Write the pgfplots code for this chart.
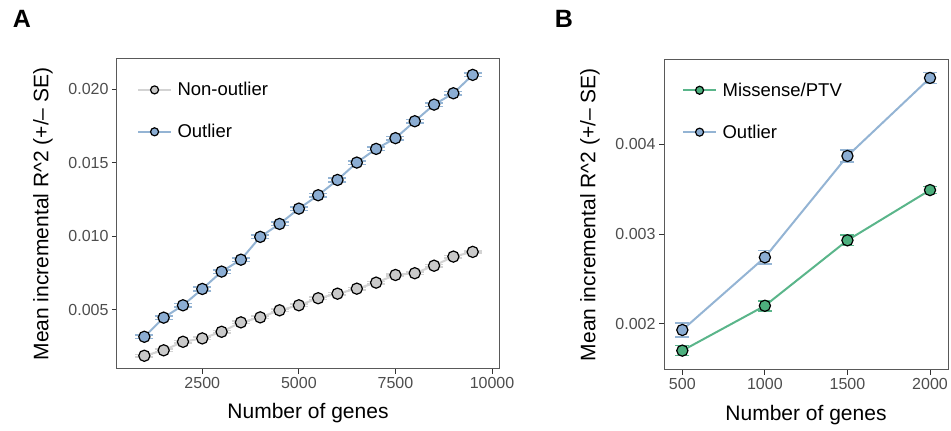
\documentclass[border=0pt]{standalone}
\usepackage{pgfplots}
\pgfplotsset{compat=1.18}
\usepackage{pgfplotstable}
\usepackage{fontspec}
\setmainfont{Liberation Sans}
\definecolor{outfill}{HTML}{8BADD3}
\definecolor{outline}{HTML}{94B4D4}
\definecolor{nonfill}{HTML}{C9C9C9}
\definecolor{nonline}{HTML}{D3D3D3}
\definecolor{misfill}{HTML}{4CAF7D}
\definecolor{misline}{HTML}{5AB58A}
\definecolor{frame}{HTML}{595959}
\definecolor{ticklab}{HTML}{4D4D4D}

\pgfplotstableread{
x out oute non none
1000 0.00316 0.00012 0.00187 0.00008
1500 0.00446 0.00012 0.00224 0.00008
2000 0.00530 0.00012 0.00282 0.00008
2500 0.00641 0.00012 0.00305 0.00008
3000 0.00759 0.00012 0.00350 0.00008
3500 0.00840 0.00012 0.00414 0.00008
4000 0.00995 0.00012 0.00448 0.00008
4500 0.01083 0.00012 0.00496 0.00008
5000 0.01187 0.00012 0.00530 0.00008
5500 0.01278 0.00012 0.00578 0.00008
6000 0.01382 0.00012 0.00609 0.00008
6500 0.01500 0.00012 0.00643 0.00008
7000 0.01593 0.00012 0.00684 0.00008
7500 0.01666 0.00012 0.00736 0.00008
8000 0.01781 0.00012 0.00748 0.00008
8500 0.01894 0.00012 0.00799 0.00008
9000 0.01971 0.00012 0.00861 0.00008
9500 0.02096 0.00012 0.00893 0.00008
}\tableA

\pgfplotstableread{
x mis mise out oute
500 0.00170 0.000055 0.00193 0.000075
1000 0.00220 0.000055 0.00274 0.000075
1500 0.00293 0.000060 0.00387 0.000070
2000 0.00349 0.000040 0.00474 0.000060
}\tableB

\pgfplotsset{
  mystyle/.style={
    scale only axis,
    axis line style={frame, line width=1pt},
    tick align=outside,
    xtick pos=lower, ytick pos=left,
    major tick length=5pt,
    tick style={black!80, line width=1pt},
    ticklabel style={font=\fontsize{16}{18}\selectfont, text=ticklab},
    label style={font=\fontsize{21}{24}\selectfont},
    /pgf/number format/assume math mode=true,
    scaled ticks=false,
    legend cell align=left,
    legend style={draw=none, fill=none, inner sep=0pt,
      font=\fontsize{18.5}{20}\selectfont, row sep=27pt,
      nodes={inner xsep=5.5pt, inner ysep=0pt}},
    legend image code/.code={
      \draw[##1, mark size=4pt, mark repeat=2, mark phase=2]
        plot coordinates {(0pt,0pt) (16.5pt,0pt) (33pt,0pt)};
    },
  },
  serie/.style n args={2}{
    color=#1, line width=2pt,
    mark=*, mark size=5.6pt,
    mark options={draw=black, fill=#2, line width=1.2pt},
    error bars/.cd, y dir=both, y explicit,
    error bar style={color=#1, line width=1.6pt},
  },
}

\begin{document}
\begin{tikzpicture}[x=1pt,y=1pt]
\path[use as bounding box] (0,0) rectangle (951,431);
\node[font=\fontsize{25}{28}\selectfont\bfseries] at (22,412) {A};
\node[font=\fontsize{25}{28}\selectfont\bfseries] at (564,412) {B};

\begin{axis}[mystyle,
  at={(117pt,62pt)}, anchor=south west,
  width=382pt, height=310pt,
  xmin=292, xmax=10181, ymin=0.00097, ymax=0.02204,
  xtick={2500,5000,7500,10000},
  ytick={0.005,0.010,0.015,0.020},
  xticklabel style={/pgf/number format/set thousands separator={}},
  yticklabel style={/pgf/number format/.cd, fixed, fixed zerofill, precision=3},
  xlabel={Number of genes},
  ylabel={Mean incremental R\^{}2 (+/– SE)},
  xlabel style={at={(axis description cs:0.5,-0.142)}, anchor=center},
  ylabel style={at={(axis description cs:-0.194,0.5)}, anchor=center},
  legend style={at={(axis description cs:0.052,0.925)}, anchor=north west},
]
\addplot[serie={nonline}{nonfill}, error mark options={rotate=90, mark size=9pt, line width=1.6pt, nonline}]
  table[x=x, y=non, y error=none] {\tableA};
\addlegendentry{Non-outlier}
\addplot[serie={outline}{outfill}, error mark options={rotate=90, mark size=9pt, line width=1.6pt, outline}]
  table[x=x, y=out, y error=oute] {\tableA};
\addlegendentry{Outlier}
\end{axis}

\begin{axis}[mystyle,
  at={(664pt,61pt)}, anchor=south west,
  width=284pt, height=310.7pt,
  xmin=389, xmax=2109, ymin=0.001484, ymax=0.004948,
  xtick={500,1000,1500,2000},
  ytick={0.002,0.003,0.004},
  xticklabel style={/pgf/number format/set thousands separator={}},
  yticklabel style={/pgf/number format/.cd, fixed, fixed zerofill, precision=3},
  xlabel={Number of genes},
  ylabel={Mean incremental R\^{}2 (+/– SE)},
  xlabel style={at={(axis description cs:0.5,-0.145)}, anchor=center},
  ylabel style={at={(axis description cs:-0.2606,0.5)}, anchor=center},
  legend style={at={(axis description cs:0.063,0.925)}, anchor=north west},
]
\addplot[serie={misline}{misfill}, error mark options={rotate=90, mark size=7pt, line width=1.6pt, misline}]
  table[x=x, y=mis, y error=mise] {\tableB};
\addlegendentry{Missense/PTV}
\addplot[serie={outline}{outfill}, error mark options={rotate=90, mark size=7pt, line width=1.6pt, outline}]
  table[x=x, y=out, y error=oute] {\tableB};
\addlegendentry{Outlier}
\end{axis}
\end{tikzpicture}
\end{document}
